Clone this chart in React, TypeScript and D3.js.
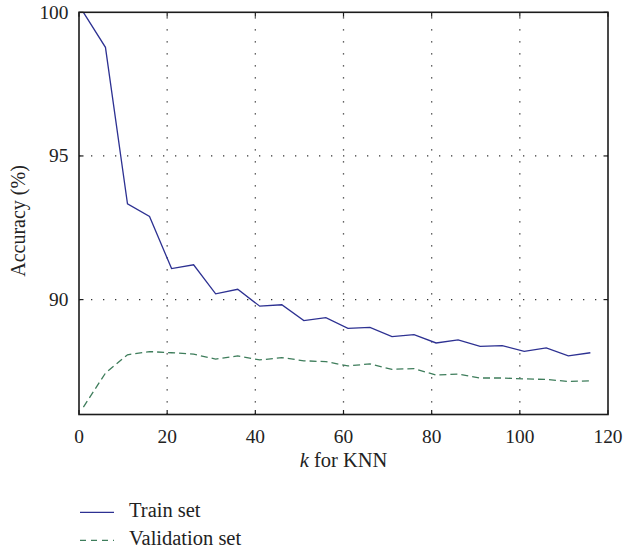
import React from "react";
import * as d3 from "d3";

// k values evaluated for the KNN classifier
const kValues = [1, 6, 11, 16, 21, 26, 31, 36, 41, 46, 51, 56, 61, 66, 71, 76, 81, 86, 91, 96, 101, 106, 111, 116];

// Accuracy (%) on the training set
const trainAccuracy = [
  100, 98.78, 93.33, 92.89, 91.08, 91.21, 90.2, 90.36, 89.77, 89.82, 89.27, 89.37,
  89.0, 89.03, 88.71, 88.78, 88.49, 88.6, 88.37, 88.4, 88.2, 88.32, 88.04, 88.15,
];

// Accuracy (%) on the validation set
const validationAccuracy = [
  86.26, 87.44, 88.08, 88.19, 88.15, 88.1, 87.93, 88.04, 87.9, 87.98, 87.87, 87.84,
  87.69, 87.76, 87.57, 87.6, 87.37, 87.41, 87.27, 87.27, 87.24, 87.22, 87.15, 87.17,
];

const xTicks = [0, 20, 40, 60, 80, 100, 120];
const yTicks = [90, 95, 100];
const xGrid = [20, 40, 60, 80, 100];
const yGrid = [90, 95];

const legendItems = ["Train set", "Validation set"];

const W = 623;
const H = 555;
const left = 79;
const right = 608;
const top = 12.3;
const bottom = 414.5;

const TRAIN_COLOR = "#2d3192";
const VAL_COLOR = "#3e7d5b";
const AXIS_COLOR = "#1c1c1c";
const TEXT_COLOR = "#222";
const FONT = "Liberation Serif";

export default function App() {
  const x = d3.scaleLinear().domain([0, 120]).range([left, right]);
  const y = d3.scaleLinear().domain([86, 100]).range([bottom, top]);

  const line = d3
    .line<number>()
    .x((_, i) => x(kValues[i]))
    .y((d) => y(d));

  const tickLen = 4.5;

  return (
    <div style={{ position: "absolute", left: 0, top: 0 }}>
      <svg width={W} height={H} style={{ display: "block", background: "#fff" }}>
        {/* dotted grid */}
        <g stroke="#333" strokeWidth={1.3} strokeDasharray="1.3,10.7" fill="none">
          {xGrid.map((t) => (
            <line key={"gx" + t} x1={x(t)} x2={x(t)} y1={bottom} y2={top} />
          ))}
          {yGrid.map((t) => (
            <line key={"gy" + t} x1={left} x2={right} y1={y(t)} y2={y(t)} />
          ))}
        </g>

        {/* inward ticks on all four sides */}
        <g stroke={AXIS_COLOR} strokeWidth={1.2}>
          {xTicks.map((t) => (
            <g key={"tx" + t}>
              <line x1={x(t)} x2={x(t)} y1={bottom} y2={bottom - tickLen} />
              <line x1={x(t)} x2={x(t)} y1={top} y2={top + tickLen} />
            </g>
          ))}
          {yTicks.map((t) => (
            <g key={"ty" + t}>
              <line x1={left} x2={left + tickLen} y1={y(t)} y2={y(t)} />
              <line x1={right} x2={right - tickLen} y1={y(t)} y2={y(t)} />
            </g>
          ))}
        </g>

        {/* series */}
        <path d={line(trainAccuracy) ?? ""} fill="none" stroke={TRAIN_COLOR} strokeWidth={1.3} />
        <path
          d={line(validationAccuracy) ?? ""}
          fill="none"
          stroke={VAL_COLOR}
          strokeWidth={1.3}
          strokeDasharray="7,4"
        />

        {/* frame */}
        <rect
          x={left}
          y={top}
          width={right - left}
          height={bottom - top}
          fill="none"
          stroke={AXIS_COLOR}
          strokeWidth={1.6}
        />

        {/* tick labels */}
        {xTicks.map((t) => (
          <text key={"lx" + t} x={x(t)} y={442.5} textAnchor="middle" fontFamily={FONT} fontSize={19.4} fill={TEXT_COLOR}>
            {t}
          </text>
        ))}
        {yTicks.map((t) => (
          <text key={"ly" + t} x={68.5} y={y(t) + 6.3} textAnchor="end" fontFamily={FONT} fontSize={19.4} fill={TEXT_COLOR}>
            {t}
          </text>
        ))}

        {/* axis titles */}
        <text x={(left + right) / 2} y={467} textAnchor="middle" fontFamily={FONT} fontSize={20.5} fill={TEXT_COLOR}>
          <tspan fontStyle="italic">k</tspan> for KNN
        </text>
        <text
          transform="translate(24.5, 221) rotate(-90)"
          textAnchor="middle"
          fontFamily={FONT}
          fontSize={20}
          fill={TEXT_COLOR}
        >
          Accuracy (%)
        </text>

        {/* legend */}
        <line x1={80} x2={114} y1={512.3} y2={512.3} stroke={TRAIN_COLOR} strokeWidth={1.3} />
        <text x={129} y={517} fontFamily={FONT} fontSize={20.5} fill={TEXT_COLOR}>
          {legendItems[0]}
        </text>
        <line
          x1={80}
          x2={114}
          y1={540.3}
          y2={540.3}
          stroke={VAL_COLOR}
          strokeWidth={1.3}
          strokeDasharray="6,5"
        />
        <text x={129} y={545} fontFamily={FONT} fontSize={20.5} fill={TEXT_COLOR}>
          {legendItems[1]}
        </text>
      </svg>
    </div>
  );
}
